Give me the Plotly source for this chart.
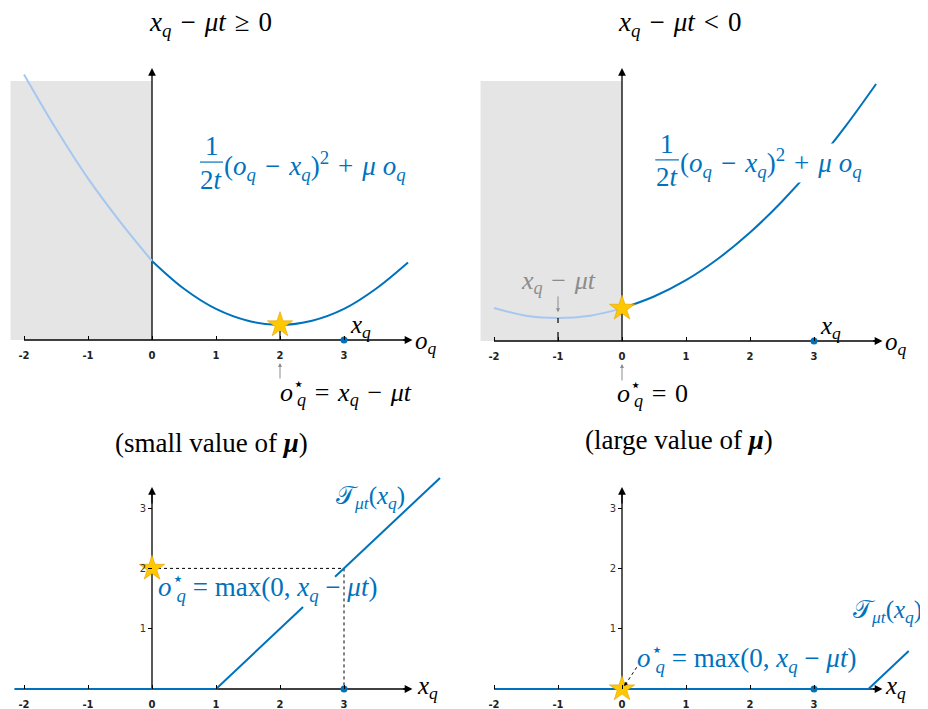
import plotly.graph_objects as go

# the page body adds an 8px margin, so the figure is drawn 8px in from the corner
OFF = 8
W, H = 928 - OFF, 709 - OFF

# ---- data ----
o_ticks = [-2, -1, 0, 1, 2, 3]
o_tick_text = ["-2", "-1", "0", "1", "2", "3"]
y_ticks_bottom = [1, 2, 3]
x_q = 3

# objective 1/(2t)(o - x)^2 + mu*o, small mu (top left)
o_small = [-2, -1.5, -1, -0.5, 0, 0.5, 1, 1.5, 2, 2.5, 3, 3.5, 4]
obj_small = [8.3, 6.6, 5.05, 3.7, 2.47, 1.6, 0.97, 0.6, 0.47, 0.6, 0.97, 1.6, 2.42]
# large mu (top right)
o_large = [-2, -1.5, -1, -0.5, 0, 0.5, 1, 1.5, 2, 2.5, 3, 3.5, 3.97]
obj_large = [1.03, 0.79, 0.72, 0.79, 1.02, 1.39, 1.9, 2.57, 3.39, 4.36, 5.47, 6.73, 8.03]

opt_small = (2, 0.47)
opt_large = (0, 1.02)
unc_large = (-1, 0.72)

# soft-threshold operator T_{mu t}(x_q); the left one is broken where the label sits
xq_left = [-2.15, 1, 2.36, None, 2.86, 4.5]
prox_left = [0, 0, 1.36, None, 1.86, 3.5]
xq_right = [-2, 3.85, 4.48]
prox_right = [0, 0, 0.63]
star_left = (0, 2)
star_right = (0, 0)

BLUE = "#0072BD"
LIGHT = "#A6C8F0"
GOLD = "#FFC800"
GREY_TXT = "#8C8C8C"
SERIF = "Liberation Serif"
SP = "\u2004"  # a bit wider than a space, like TeX math spacing

fig = go.Figure()

# panel geometry in reference pixels: zero of o, baseline y, px per y unit, boxes
panels = {
    "tl": dict(xa="x", ya="y", o0=152, base=340, sy=32, bx=(0, 464), by=(0, 400)),
    "tr": dict(xa="x2", ya="y2", o0=622, base=341, sy=32, bx=(464, 928), by=(0, 400)),
    "bl": dict(xa="x3", ya="y3", o0=152, base=689, sy=60.3, bx=(0, 464), by=(440, 709)),
    "br": dict(xa="x4", ya="y4", o0=622, base=689, sy=60.3, bx=(464, 928), by=(440, 709)),
}
SX = 64

layout_axes = {}
for i, (k, p) in enumerate(panels.items()):
    n = "" if i == 0 else str(i + 1)
    bx0, bx1 = max(p["bx"][0], OFF), p["bx"][1]
    by0, by1 = max(p["by"][0], OFF), p["by"][1]
    xr = [(bx0 - p["o0"]) / SX, (bx1 - p["o0"]) / SX]
    yr = [(p["base"] - by1) / p["sy"], (p["base"] - by0) / p["sy"]]
    layout_axes["xaxis" + n] = dict(
        domain=[(bx0 - OFF) / W, (bx1 - OFF) / W], range=xr, anchor="free",
        position=1 - (p["base"] - OFF) / H, showline=False, showgrid=False, zeroline=False,
        tickvals=o_ticks, ticktext=o_tick_text, ticks="inside", ticklen=4,
        tickcolor="black", tickwidth=1, ticklabelstandoff=8,
        tickfont=dict(family="DejaVu Sans", size=10, color="#222", weight="bold"),
        fixedrange=True,
    )
    ya = dict(
        domain=[1 - (by1 - OFF) / H, 1 - (by0 - OFF) / H], range=yr, anchor="free",
        position=(p["o0"] - OFF) / W, showline=False, showgrid=False, zeroline=False,
        fixedrange=True,
    )
    if k in ("bl", "br"):
        ya.update(tickvals=y_ticks_bottom, ticks="outside", ticklen=4, tickcolor="black",
                  tickfont=dict(family="DejaVu Sans", size=10, color="#333"))
    else:
        ya.update(showticklabels=False, ticks="")
    layout_axes["yaxis" + n] = ya

shapes = []
annotations = []


def line(p, xs, ys, color="black", width=1.3, dash="solid", shape="linear"):
    fig.add_trace(go.Scatter(x=xs, y=ys, mode="lines", xaxis=p["xa"], yaxis=p["ya"],
                             line=dict(color=color, width=width, dash=dash, shape=shape),
                             hoverinfo="skip", showlegend=False))


def point(p, x, y, symbol, size, color, lc=None):
    fig.add_trace(go.Scatter(x=[x], y=[y], mode="markers", xaxis=p["xa"], yaxis=p["ya"],
                             marker=dict(symbol=symbol, size=size, color=color,
                                         line=dict(width=0.6 if lc else 0, color=lc or color)),
                             hoverinfo="skip", showlegend=False))


def text(p, x, y, s, size=24, color="black", xanchor="center", bg=None):
    d = dict(text=s, x=x, y=y, showarrow=False, xanchor=xanchor, yanchor="middle",
             font=dict(family=SERIF, size=size, color=color))
    if p is None:  # reference pixel position
        d.update(xref="paper", yref="paper", x=(x - OFF) / W, y=1 - (y - OFF) / H)
    else:
        d.update(xref=p["xa"], yref=p["ya"])
    if bg:
        d.update(bgcolor=bg, borderpad=0)
    annotations.append(d)


def arrow(p, x0, y0, x1, y1, color="black", width=1.3, head=2, size=1.2):
    annotations.append(dict(x=x1, y=y1, ax=x0, ay=y0, xref=p["xa"], yref=p["ya"],
                            axref=p["xa"], ayref=p["ya"], showarrow=True, text="",
                            arrowhead=head, arrowsize=size, arrowwidth=width,
                            arrowcolor=color))


def axes(p, y_top):
    line(p, [-2, 4.0], [0, 0])
    arrow(p, 3.9, 0, 4.07, 0)
    line(p, [0, 0], [0, y_top - 0.1])
    arrow(p, 0, y_top - 0.3, 0, y_top)


def op(*parts):
    return SP.join(parts)


xq = "<i>x</i><sub><i>q</i></sub>"
oq = "<i>o</i><sub><i>q</i></sub>"
ostar = ("<i>o</i><sup><span style='letter-spacing:-7px'>⋆</span></sup>"
         "<sub><i>q</i></sub>")
rest = "(" + op(oq, "−", xq) + ")<sup>2</sup>" + SP + op("+", "<i>μ</i> " + oq)
prox_txt = ostar + " = max(0, " + xq + " − <i>μt</i>)"
T_txt = "𝒯<sub><i>μt</i></sub>(" + xq + ")"

# ---------------- top panels ----------------
for k, obj_o, obj_v in (("tl", o_small, obj_small), ("tr", o_large, obj_large)):
    p = panels[k]
    shapes.append(dict(type="rect", xref=p["xa"], yref=p["ya"], x0=-2.21, x1=0,
                       y0=0, y1=(p["base"] - 81) / p["sy"], fillcolor="#E5E5E5",
                       line=dict(width=0), layer="below"))
    axes(p, (p["base"] - 68) / p["sy"])
    i0 = obj_o.index(0)
    line(p, obj_o[:i0 + 1], obj_v[:i0 + 1], LIGHT, 2, shape="spline")
    line(p, obj_o[i0:], obj_v[i0:], BLUE, 2, shape="spline")
    point(p, x_q, 0, "circle", 7, BLUE)

pl, pr = panels["tl"], panels["tr"]
line(pl, [opt_small[0]] * 2, [0, opt_small[1]], "black", 1.2, "dash")
point(pl, opt_small[0], opt_small[1], "star", 19, GOLD, "#E0A000")
line(pr, [unc_large[0]] * 2, [0, unc_large[1]], "black", 1.2, "dash")
point(pr, opt_large[0], opt_large[1], "star", 19, GOLD, "#E0A000")

text(None, 210, 24, op(xq, "−", "<i>μt</i>", "≥", "0"), 27)
text(None, 680, 24, op(xq, "−", "<i>μt</i>", "&lt;", "0"), 27)
text(None, 211, 443, "(small value of <b><i>μ</i></b>)", 27)
text(None, 679, 440, "(large value of <b><i>μ</i></b>)", 27)

for p, fx0, fx1, fy, rx, ry in ((pl, 0.75, 1.11, 5.56, 1.11, 5.44),
                                (pr, 0.52, 0.89, 5.66, 0.89, 5.56)):
    shapes.append(dict(type="line", xref=p["xa"], yref=p["ya"], x0=fx0, x1=fx1,
                       y0=fy, y1=fy, line=dict(color=BLUE, width=1.2)))
    text(p, (fx0 + fx1) / 2, fy + 0.5, "1", 27, BLUE)
    text(p, (fx0 + fx1) / 2, fy - 0.55, "2<i>t</i>", 27, BLUE)
    text(p, rx, ry, rest, 27, BLUE, xanchor="left", bg="white")
    text(p, 3.25, 0.41, xq, 25)
    text(p, 4.28, -0.08, oq, 25)

arrow(pl, 2, -1.25, 2, -0.72, GREY_TXT, 1, 2, 0.8)
text(pl, 3.03, -1.62, op(ostar, "=", xq, "−", "<i>μt</i>"), 26)
arrow(pr, -1, 1.44, -1, 0.9, GREY_TXT, 1, 2, 0.8)
text(pr, -1.0, 1.84, op(xq, "−", "<i>μt</i>"), 26, GREY_TXT)
arrow(pr, 0, -1.28, 0, -0.72, GREY_TXT, 1, 2, 0.8)
text(pr, 0.47, -1.63, op(ostar, "=", "0"), 26)

# ---------------- bottom panels ----------------
bl, br = panels["bl"], panels["br"]
axes(bl, (689 - 487) / 60.3)
axes(br, (689 - 487) / 60.3)
line(bl, [star_left[0], x_q, x_q], [star_left[1], star_left[1], 0], "black", 1, "dot")
line(bl, xq_left, prox_left, BLUE, 2)
point(bl, x_q, 0, "circle", 7, BLUE)
point(bl, star_left[0], star_left[1], "star", 19, GOLD, "#E0A000")
text(bl, 1.8, 1.69, prox_txt, 27, BLUE)
text(bl, 3.41, 3.17, T_txt, 25, BLUE)
text(bl, 4.31, 0.02, xq, 25)

line(br, xq_right, prox_right, BLUE, 2)
line(br, [0.23, 0.05], [0.36, 0.07], "black", 1, "dot")
arrow(br, 0.07, 0.1, 0.03, 0.05, "black", 1, 2, 0.8)
point(br, x_q, 0, "circle", 7, BLUE)
point(br, star_right[0], star_right[1], "star", 19, GOLD, "#E0A000")
text(br, 1.95, 0.51, prox_txt, 27, BLUE)
text(br, 4.15, 1.28, T_txt, 25, BLUE)
text(br, 4.28, 0.02, xq, 25)

fig.update_layout(
    width=W, height=H, margin=dict(l=0, r=0, t=0, b=0),
    paper_bgcolor="white", plot_bgcolor="rgba(0,0,0,0)",
    showlegend=False, shapes=shapes, annotations=annotations, **layout_axes,
)

fig.write_html("out.html")
